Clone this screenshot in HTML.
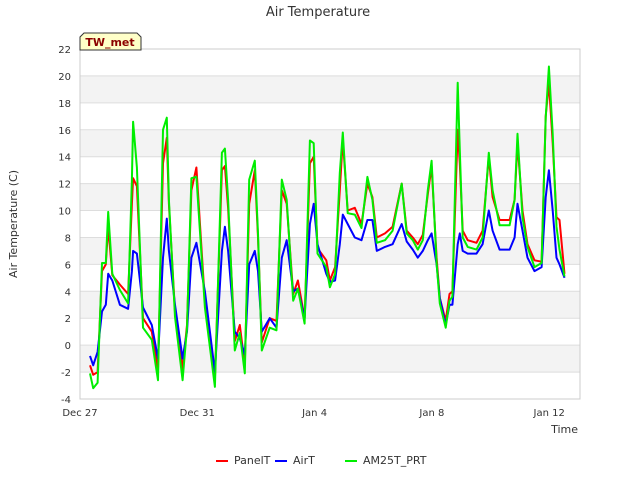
<!DOCTYPE html>
<html><head><meta charset="utf-8"><style>
body{margin:0;background:#fff;font-family:"Liberation Sans","DejaVu Sans",sans-serif;}
svg text{font-family:"DejaVu Sans","Liberation Sans",sans-serif;}
</style></head><body>
<svg id="chart" width="640" height="480" viewBox="0 0 640 480" xmlns="http://www.w3.org/2000/svg">
<rect width="640" height="480" fill="#fff"/>
<g id="bands"></g><g id="grid"></g>
<rect x="80" y="49" width="500" height="350" fill="none" stroke="#ccc"/>
<g id="series"></g><g id="ticks"></g>
<text x="318" y="16" text-anchor="middle" font-size="13" fill="#333">Air Temperature</text>
<text transform="translate(17,224) rotate(-90)" text-anchor="middle" font-size="11" fill="#333">Air Temperature (C)</text>
<text x="578" y="433" text-anchor="end" font-size="11" fill="#333">Time</text>
<g>
<path d="M80,50 L80,37 L84,33 L137,33 L141,37 L141,50 Z" fill="#ffffc8" stroke="#333" stroke-width="1"/>
<text x="110" y="46" text-anchor="middle" font-size="11" font-weight="bold" fill="#8b0000">TW_met</text>
</g>
<g id="legend"></g>
</svg>
<script>
const times=[0.34,0.45,0.6,0.75,0.88,0.96,1.1,1.36,1.64,1.77,1.81,1.94,2.15,2.45,2.66,2.83,2.96,3.03,3.24,3.5,3.65,3.8,3.97,4.26,4.6,4.84,4.94,5.05,5.28,5.45,5.62,5.77,5.96,6.07,6.2,6.47,6.7,6.88,7.05,7.27,7.43,7.66,7.84,7.97,8.1,8.4,8.52,8.7,8.86,8.96,9.13,9.37,9.6,9.8,9.97,10.12,10.4,10.66,10.97,11.14,11.35,11.52,11.69,11.86,11.99,12.16,12.27,12.47,12.6,12.7,12.88,12.95,13.05,13.22,13.52,13.73,13.94,14.07,14.31,14.65,14.82,14.92,15.09,15.26,15.5,15.74,15.88,15.99,16.12,16.25,16.35,16.52];
const greenVals=[-2.1,-3.2,-2.8,6.1,6.1,9.9,5.3,4.1,3.1,12.3,16.6,13.2,1.3,0.4,-2.6,16.0,16.9,10.8,2.1,-2.6,1.3,12.4,12.5,2.8,-3.1,14.3,14.6,10.8,-0.4,0.9,-2.1,12.3,13.7,8.3,-0.4,1.3,1.1,12.3,10.8,3.3,4.2,1.6,15.2,15.0,6.8,5.8,4.3,5.3,12.8,15.8,9.8,9.7,8.7,12.5,10.8,7.6,7.8,8.5,12.0,8.3,7.8,7.1,7.8,11.5,13.7,6.1,3.1,1.3,3.3,3.6,19.5,14.5,8.0,7.3,7.1,8.0,14.3,11.5,8.9,8.9,10.8,15.7,9.5,7.3,5.8,6.1,16.9,20.7,15.7,8.8,7.1,5.1];
const redVals=[-1.5,-2.2,-2.0,5.5,6.0,8.8,5.2,4.5,3.8,10.5,12.4,11.8,2.0,1.0,-1.8,13.5,15.4,10.5,2.5,-1.8,1.5,11.5,13.2,3.2,-2.5,13.0,13.3,10.2,0.3,1.5,-1.5,10.5,13.0,8.0,0.2,2.0,1.8,11.5,10.5,3.8,4.8,2.0,13.5,14.0,7.2,6.3,4.8,5.8,11.5,15.3,10.0,10.2,9.0,12.0,11.0,8.0,8.3,8.8,12.0,8.5,8.0,7.5,8.2,11.2,13.3,6.5,3.5,1.8,3.8,4.0,16.0,13.5,8.5,7.8,7.6,8.5,14.0,11.0,9.3,9.3,10.8,15.0,10.0,7.5,6.3,6.2,17.0,19.5,15.0,9.5,9.3,5.3];
const blueVals=[-0.8,-1.5,-0.5,2.5,3.0,5.3,4.8,3.0,2.7,5.5,7.0,6.8,2.8,1.5,-1.0,6.5,9.4,7.0,3.0,-1.0,1.0,6.5,7.6,4.0,-2.0,7.0,8.8,7.0,1.0,0.5,-0.7,6.0,7.0,5.5,1.0,2.0,1.3,6.5,7.8,4.0,4.2,2.0,9.0,10.5,7.5,5.3,4.7,4.8,7.5,9.7,9.0,8.0,7.8,9.3,9.3,7.0,7.3,7.5,9.0,7.7,7.1,6.5,7.0,7.8,8.3,6.0,3.5,1.5,3.0,3.0,7.5,8.3,7.0,6.8,6.8,7.5,10.0,8.5,7.1,7.1,8.0,10.5,8.5,6.5,5.5,5.8,11.0,13.0,10.0,6.5,6.0,5.0];
const yTicks=[-4,-2,0,2,4,6,8,10,12,14,16,18,20,22];
const xTickDays=[0,4,8,12,16];
const xTickLabels=["Dec 27","Dec 31","Jan 4","Jan 8","Jan 12"];
const seriesNames=["PanelT","AirT","AM25T_PRT"];
const seriesColors=["#ff0000","#0000ff","#00ee00"];

const NS="http://www.w3.org/2000/svg";
const X0=80,X1=580,Y0=399,Y1=49,DMIN=0,DMAX=17.05,VMIN=-4,VMAX=22;
function xs(d){return X0+(d-DMIN)/(DMAX-DMIN)*(X1-X0);}
function ys(v){return Y0-(v-VMIN)/(VMAX-VMIN)*(Y0-Y1);}
function mk(tag,attrs,parent){const e=document.createElementNS(NS,tag);for(const k in attrs)e.setAttribute(k,attrs[k]);parent.appendChild(e);return e;}
const bands=document.getElementById('bands'),grid=document.getElementById('grid'),ticks=document.getElementById('ticks');
for(let i=0;i<yTicks.length-1;i++){
  if(i%2===1){const r=mk('rect',{x:X0,y:ys(yTicks[i+1]),width:X1-X0,height:ys(yTicks[i])-ys(yTicks[i+1]),fill:'#f3f3f3'},bands);
  
  }
}
yTicks.forEach(v=>{
  const l=mk('line',{x1:X0,x2:X1,y1:ys(v),y2:ys(v),stroke:'#dddddd'},grid);
  
  
  const t=mk('text',{x:71,y:ys(v)+4,'text-anchor':'end','font-size':'10',fill:'#333'},ticks);
  t.textContent=v;
  
  
});
xTickDays.forEach((d,i)=>{
  const t=mk('text',{x:xs(d),y:416,'text-anchor':'middle','font-size':'10',fill:'#333'},ticks);
  t.textContent=xTickLabels[i];
  
  
});
const sg=document.getElementById('series');
[redVals,blueVals,greenVals].forEach((vals,si)=>{
  const pts=times.map((d,i)=>xs(d).toFixed(1)+','+ys(vals[i]).toFixed(1)).join(' ');
  const p=mk('polyline',{points:pts,fill:'none',stroke:seriesColors[si],'stroke-width':'2','stroke-linejoin':'round'},sg);
  
  
});
const lg=document.getElementById('legend');
const lx=[216,275,345];
seriesNames.forEach((n,i)=>{
  const g=mk('g',{},lg);
  
  
  mk('line',{x1:lx[i],x2:lx[i]+12,y1:461,y2:461,stroke:seriesColors[i],'stroke-width':'2'},g);
  const t=mk('text',{x:lx[i]+18,y:464,'font-size':'11',fill:'#333'},g);
  t.textContent=n;
});
</script>
</body></html>
